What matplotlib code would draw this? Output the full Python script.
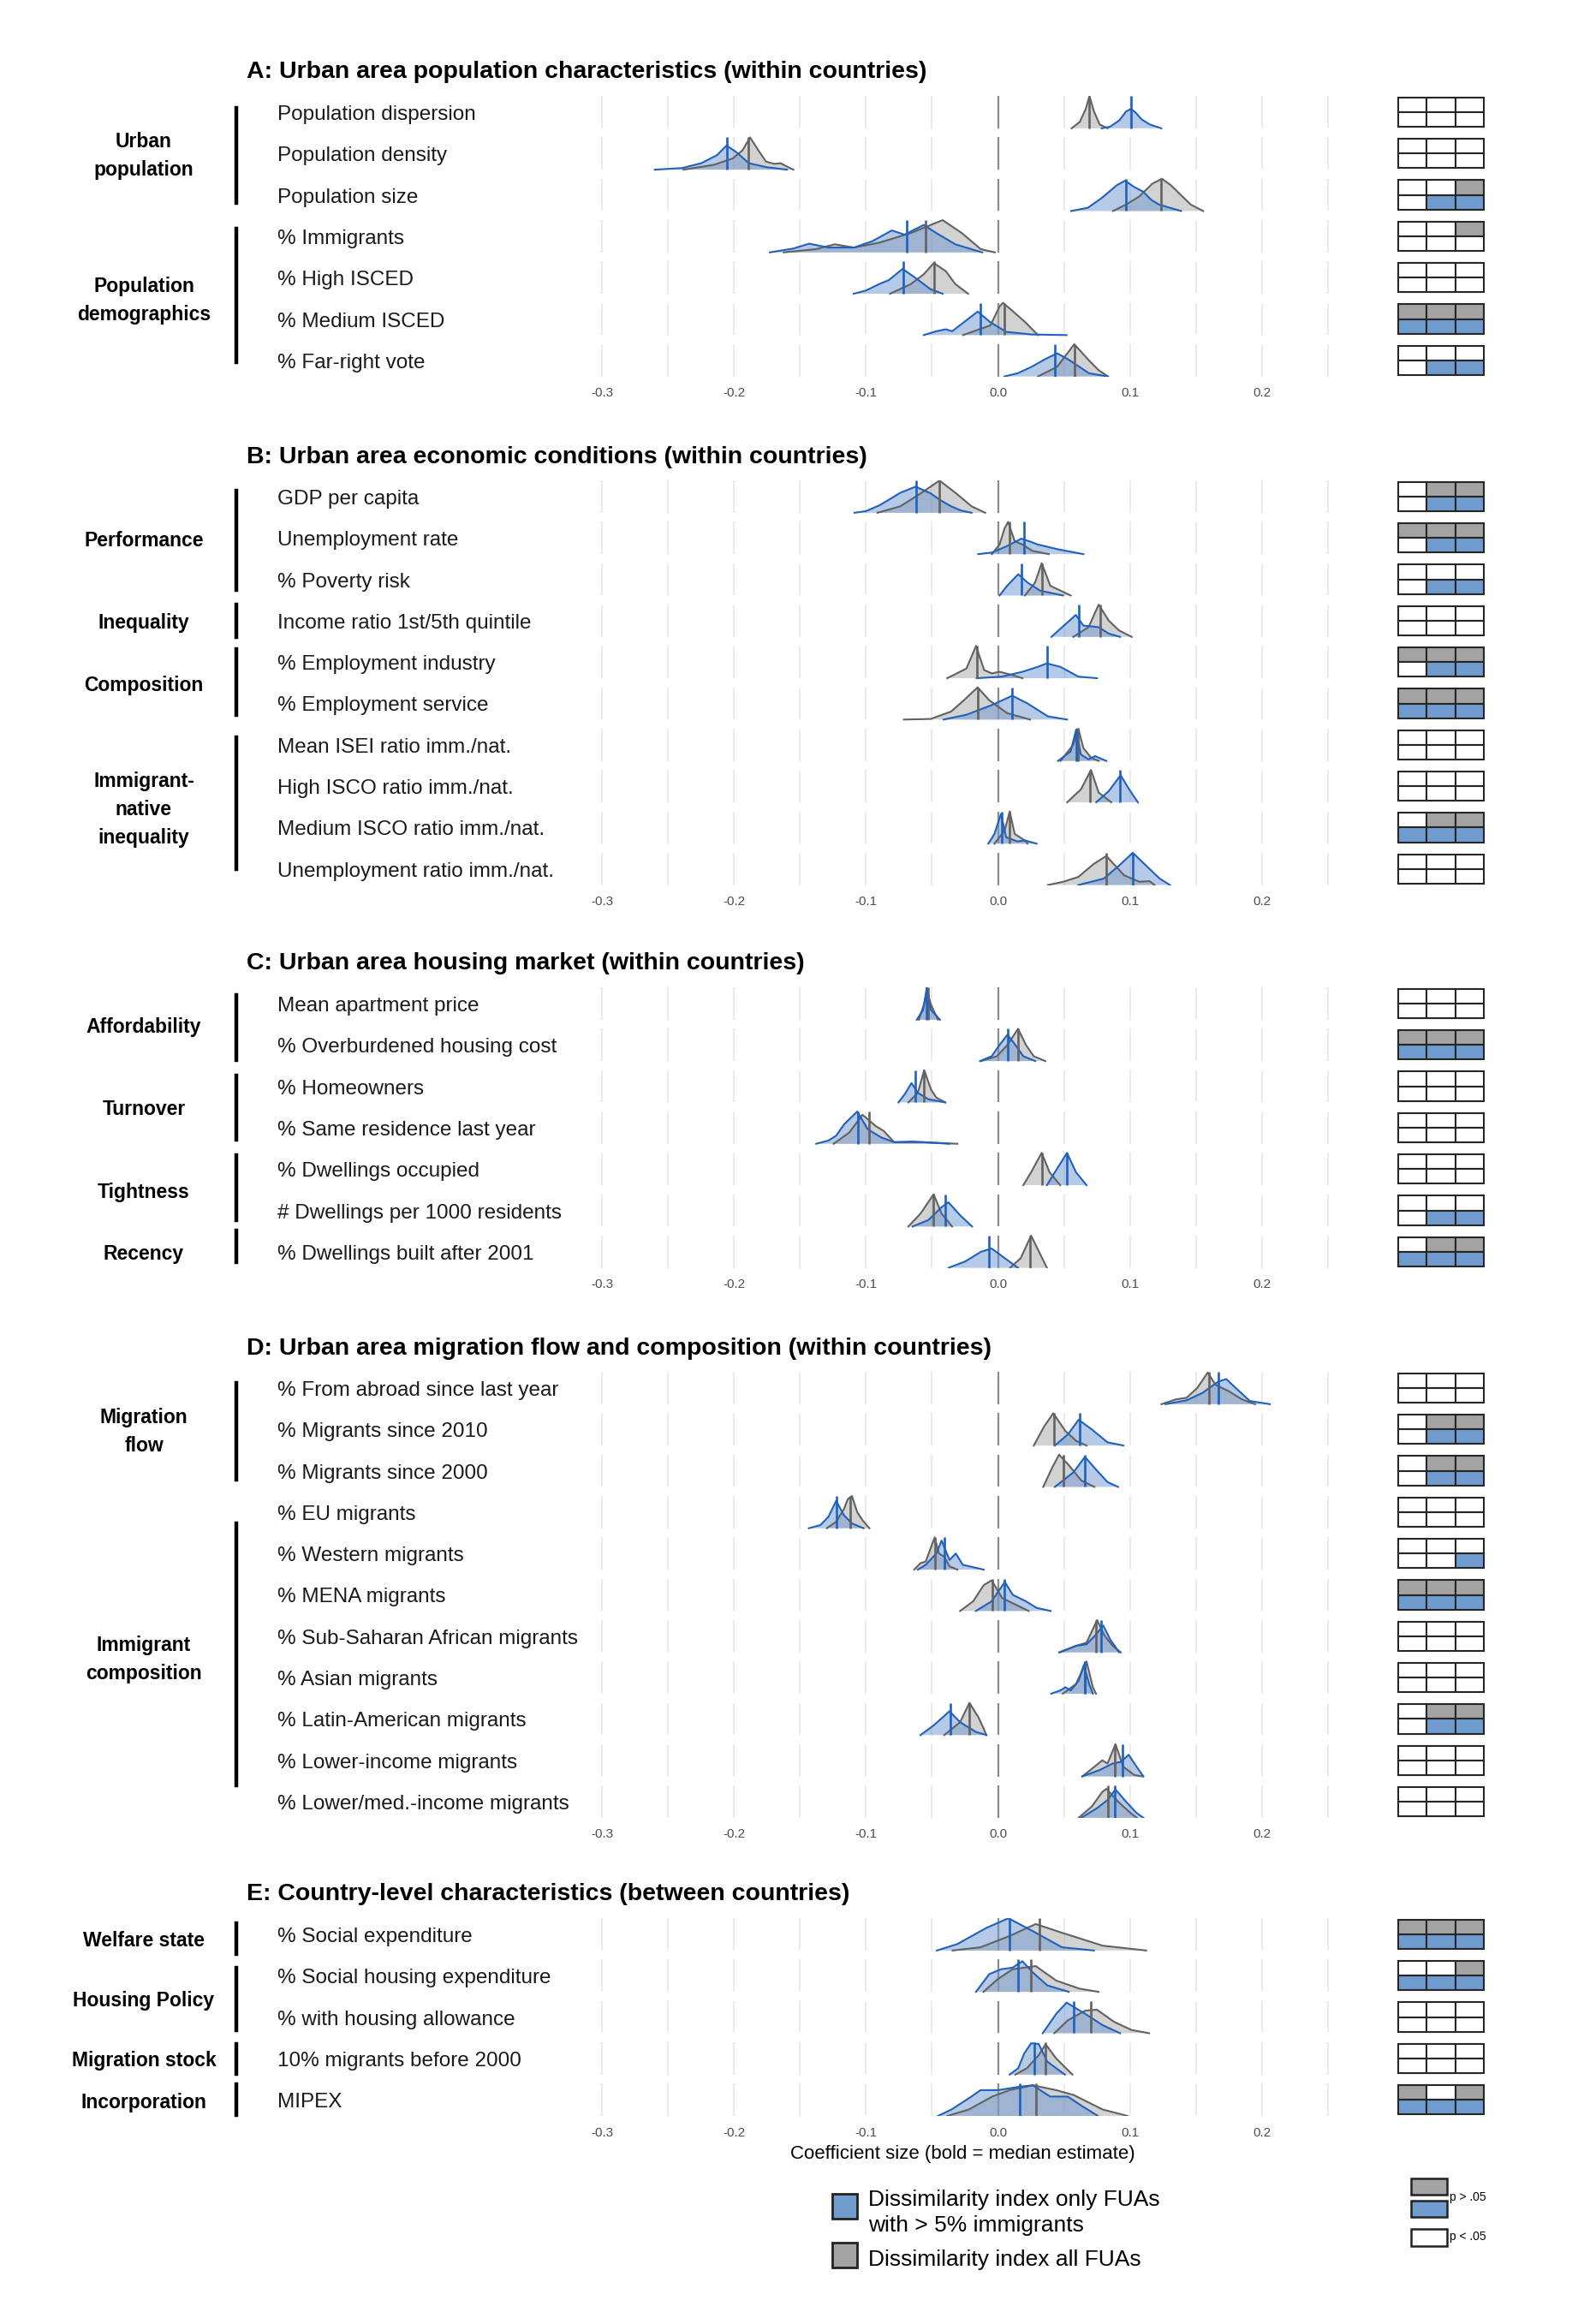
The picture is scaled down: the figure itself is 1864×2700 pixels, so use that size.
import numpy as np
import matplotlib.pyplot as plt
from matplotlib.patches import Rectangle

plt.rcParams['font.family'] = ['Liberation Sans', 'DejaVu Sans']

W, H = 1864, 2700
fig = plt.figure(figsize=(W / 100, H / 100), dpi=100)

# ---------------- data ----------------
# each curve: list of (coefficient, relative height) knots
a_title = 'A: Urban area population characteristics (within countries)'
a_labels = ['Population dispersion', 'Population density', 'Population size', '% Immigrants',
            '% High ISCED', '% Medium ISCED', '% Far-right vote']
a_groups = [('Urban\npopulation', 1.0, -0.1, 2.2), ('Population\ndemographics', 4.5, 2.82, 6.05)]
a_blue = [
    [(0.0785, 0), (0.085, 0.05), (0.092, 0.25), (0.097, 0.52), (0.1006, 0.6), (0.104, 0.5), (0.109, 0.27), (0.115, 0.12), (0.1237, 0)],
    [(-0.26, 0), (-0.2393, 0.05), (-0.2248, 0.2), (-0.2128, 0.45), (-0.2056, 0.75), (-0.1984, 0.55), (-0.1887, 0.2), (-0.1757, 0.08), (-0.1598, 0)],
    [(0.0554, 0), (0.068, 0.1), (0.0785, 0.4), (0.09, 0.8), (0.0963, 0.94), (0.103, 0.75), (0.11, 0.6), (0.116, 0.35), (0.122, 0.2), (0.1387, 0)],
    [(-0.1728, 0), (-0.155, 0.12), (-0.143, 0.27), (-0.1286, 0.15), (-0.109, 0.15), (-0.095, 0.35), (-0.0804, 0.68), (-0.0708, 0.55), (-0.0563, 0.85), (-0.0467, 0.6), (-0.0323, 0.25), (-0.012, 0)],
    [(-0.1093, 0), (-0.1, 0.1), (-0.09, 0.3), (-0.0828, 0.42), (-0.0722, 0.77), (-0.0611, 0.45), (-0.0515, 0.15), (-0.0419, 0)],
    [(-0.0563, 0), (-0.0467, 0.12), (-0.0395, 0.18), (-0.0347, 0.12), (-0.0226, 0.5), (-0.0154, 0.73), (-0.0058, 0.4), (0.0063, 0.1), (0.0255, 0.02), (0.052, 0)],
    [(0.0048, 0), (0.015, 0.1), (0.0255, 0.3), (0.035, 0.52), (0.0448, 0.72), (0.0544, 0.5), (0.0689, 0.1), (0.0833, 0)],
]
a_grey = [
    [(0.0558, 0), (0.062, 0.2), (0.0665, 0.6), (0.0693, 1.0), (0.0725, 0.55), (0.077, 0.12), (0.083, 0)],
    [(-0.2383, 0), (-0.2152, 0.15), (-0.2008, 0.35), (-0.1935, 0.6), (-0.1878, 1.0), (-0.1815, 0.6), (-0.1757, 0.25), (-0.1695, 0.18), (-0.1647, 0.2), (-0.16, 0.1), (-0.155, 0)],
    [(0.0871, 0), (0.097, 0.2), (0.107, 0.45), (0.117, 0.85), (0.1242, 1.0), (0.131, 0.8), (0.136, 0.6), (0.146, 0.2), (0.1555, 0)],
    [(-0.1623, 0), (-0.138, 0.1), (-0.1237, 0.25), (-0.109, 0.15), (-0.09, 0.3), (-0.066, 0.6), (-0.0419, 1.0), (-0.0274, 0.6), (-0.013, 0.1), (-0.0024, 0)],
    [(-0.0818, 0), (-0.066, 0.3), (-0.0563, 0.6), (-0.0486, 0.95), (-0.0395, 0.7), (-0.0323, 0.3), (-0.0226, 0)],
    [(-0.0265, 0), (-0.0058, 0.3), (0.0014, 0.9), (0.0039, 1.0), (0.011, 0.75), (0.0207, 0.4), (0.0303, 0)],
    [(0.0303, 0), (0.0448, 0.3), (0.0578, 1.0), (0.0689, 0.5), (0.0761, 0.2), (0.0833, 0)],
]
a_blue_med = [0.1006, -0.2056, 0.0968, -0.0689, -0.0717, -0.0135, 0.0433]
a_grey_med = [0.0693, -0.189, 0.1233, -0.0549, -0.0486, 0.0048, 0.0578]
a_sig_grey = ['000', '000', '001', '001', '000', '111', '000']
a_sig_blue = ['000', '000', '011', '000', '000', '111', '011']

b_title = 'B: Urban area economic conditions (within countries)'
b_labels = ['GDP per capita', 'Unemployment rate', '% Poverty risk', 'Income ratio 1st/5th quintile',
            '% Employment industry', '% Employment service', 'Mean ISEI ratio imm./nat.',
            'High ISCO ratio imm./nat.', 'Medium ISCO ratio imm./nat.', 'Unemployment ratio imm./nat.']
b_groups = [('Performance', 1.0, -0.14, 2.25), ('Inequality', 3.0, 2.6, 3.4),
            ('Composition', 4.5, 3.69, 5.27), ('Immigrant-\nnative\ninequality', 7.5, 5.81, 9.0)]
b_blue = [
    [(-0.1087, 0), (-0.1, 0.05), (-0.0894, 0.24), (-0.082, 0.42), (-0.074, 0.62), (-0.0624, 0.81), (-0.0509, 0.6), (-0.044, 0.4), (-0.0355, 0.2), (-0.028, 0.07), (-0.02, 0)],
    [(-0.015, 0), (-0.0046, 0.05), (0.0069, 0.25), (0.0177, 0.48), (0.025, 0.38), (0.03, 0.3), (0.0455, 0.15), (0.0647, 0)],
    [(0.0012, 0), (0.0069, 0.3), (0.0154, 0.66), (0.0224, 0.4), (0.032, 0.15), (0.0493, 0)],
    [(0.0405, 0), (0.0513, 0.4), (0.059, 0.68), (0.0647, 0.35), (0.0763, 0.3), (0.084, 0.1), (0.0925, 0)],
    [(-0.0162, 0), (0.0031, 0.05), (0.0185, 0.2), (0.03, 0.35), (0.037, 0.46), (0.0474, 0.35), (0.0609, 0.05), (0.0751, 0)],
    [(-0.0412, 0), (-0.0239, 0.15), (-0.0046, 0.45), (0.0108, 0.74), (0.0224, 0.5), (0.0378, 0.1), (0.0524, 0)],
    [(0.0455, 0), (0.0551, 0.3), (0.0593, 0.98), (0.0628, 0.2), (0.0686, 0.05), (0.0736, 0.15), (0.0821, 0)],
    [(0.0744, 0), (0.084, 0.35), (0.0929, 0.84), (0.0994, 0.4), (0.106, 0)],
    [(-0.0073, 0), (-0.0027, 0.3), (0.0023, 0.92), (0.0062, 0.2), (0.0146, 0.07), (0.0204, 0.1), (0.0293, 0)],
    [(0.0609, 0), (0.0802, 0.2), (0.0917, 0.6), (0.1021, 1.0), (0.1148, 0.5), (0.1225, 0.2), (0.1303, 0)],
]
b_grey = [
    [(-0.0913, 0), (-0.074, 0.2), (-0.0586, 0.6), (-0.0443, 1.0), (-0.0316, 0.6), (-0.02, 0.2), (-0.0096, 0)],
    [(-0.0046, 0), (0.0012, 0.3), (0.005, 0.8), (0.0077, 1.0), (0.0127, 0.4), (0.0185, 0.3), (0.0262, 0.1), (0.0385, 0)],
    [(0.0204, 0), (0.0281, 0.4), (0.0331, 1.0), (0.0397, 0.3), (0.0474, 0.15), (0.0551, 0)],
    [(0.057, 0), (0.0686, 0.3), (0.0763, 1.0), (0.084, 0.5), (0.0917, 0.2), (0.1013, 0)],
    [(-0.0385, 0), (-0.0239, 0.3), (-0.0166, 1.0), (-0.0104, 0.25), (-0.0046, 0.15), (0.0012, 0.2), (0.0108, 0.1), (0.0185, 0)],
    [(-0.0713, 0), (-0.0509, 0.02), (-0.0355, 0.25), (-0.0258, 0.6), (-0.0154, 1.0), (-0.0066, 0.6), (0.0069, 0.2), (0.0243, 0)],
    [(0.0474, 0), (0.057, 0.5), (0.0609, 1.0), (0.0647, 0.4), (0.0705, 0.1), (0.0763, 0)],
    [(0.0524, 0), (0.0628, 0.4), (0.0705, 1.0), (0.0763, 0.3), (0.0859, 0)],
    [(-0.0027, 0), (0.005, 0.4), (0.0089, 1.0), (0.0127, 0.3), (0.0204, 0.1), (0.0224, 0)],
    [(0.0378, 0), (0.0493, 0.1), (0.0609, 0.25), (0.0724, 0.65), (0.0821, 0.9), (0.0956, 0.3), (0.1071, 0.1), (0.1148, 0.12), (0.1187, 0)],
]
b_blue_med = [-0.062, 0.0197, 0.0177, 0.0613, 0.037, 0.0104, 0.059, 0.0925, 0.0031, 0.1021]
b_grey_med = [-0.0443, 0.0089, 0.0331, 0.0775, -0.0162, -0.0154, 0.0609, 0.0697, 0.0089, 0.0821]
b_sig_grey = ['011', '111', '000', '000', '111', '111', '000', '000', '011', '000']
b_sig_blue = ['011', '011', '011', '000', '011', '111', '000', '000', '111', '000']

c_title = 'C: Urban area housing market (within countries)'
c_labels = ['Mean apartment price', '% Overburdened housing cost', '% Homeowners',
            '% Same residence last year', '% Dwellings occupied', '# Dwellings per 1000 residents',
            '% Dwellings built after 2001']
c_groups = [('Affordability', 0.5, -0.2, 1.37), ('Turnover', 2.5, 1.73, 3.29),
            ('Tightness', 4.5, 3.67, 5.23), ('Recency', 6.0, 5.48, 6.25)]
c_blue = [
    [(-0.0615, 0), (-0.0567, 0.3), (-0.0539, 1.0), (-0.0507, 0.3), (-0.0439, 0)],
    [(-0.0136, 0), (-0.0048, 0.15), (0.0012, 0.5), (0.0072, 0.82), (0.0132, 0.5), (0.0192, 0.15), (0.0283, 0)],
    [(-0.0754, 0), (-0.0707, 0.25), (-0.0655, 0.6), (-0.0607, 0.3), (-0.0527, 0.1), (-0.0399, 0)],
    [(-0.1377, 0), (-0.1285, 0.1), (-0.1226, 0.25), (-0.1166, 0.6), (-0.1066, 1.0), (-0.0986, 0.45), (-0.0886, 0.2), (-0.0786, 0.05), (-0.0647, 0.07), (-0.0487, 0.03), (-0.0367, 0)],
    [(0.0371, 0), (0.0431, 0.4), (0.0523, 1.0), (0.0591, 0.4), (0.0671, 0)],
    [(-0.0647, 0), (-0.0527, 0.2), (-0.0427, 0.6), (-0.0375, 0.75), (-0.0287, 0.35), (-0.0196, 0)],
    [(-0.0375, 0), (-0.0248, 0.2), (-0.0128, 0.5), (-0.0048, 0.6), (0.0052, 0.3), (0.0152, 0)],
]
c_grey = [
    [(-0.0599, 0), (-0.0559, 0.5), (-0.0535, 0.9), (-0.0511, 0.5), (-0.0455, 0)],
    [(-0.0128, 0), (-0.0008, 0.15), (0.0072, 0.5), (0.0152, 1.0), (0.0212, 0.5), (0.0271, 0.15), (0.0359, 0)],
    [(-0.0679, 0), (-0.0607, 0.3), (-0.0559, 1.0), (-0.0507, 0.4), (-0.0467, 0.15), (-0.0399, 0)],
    [(-0.1245, 0), (-0.1126, 0.35), (-0.1026, 0.9), (-0.0926, 0.55), (-0.0866, 0.4), (-0.0786, 0.05), (-0.0567, 0.05), (-0.0307, 0)],
    [(0.0192, 0), (0.0251, 0.4), (0.0331, 1.0), (0.0391, 0.4), (0.0471, 0)],
    [(-0.0679, 0), (-0.0587, 0.4), (-0.0487, 1.0), (-0.0427, 0.4), (-0.0347, 0)],
    [(0.0092, 0), (0.0172, 0.3), (0.0251, 1.0), (0.0311, 0.5), (0.0371, 0)],
]
c_blue_med = [-0.0539, 0.0072, -0.0627, -0.1058, 0.0519, -0.0399, -0.0068]
c_grey_med = [-0.0531, 0.0152, -0.0559, -0.0978, 0.0331, -0.0487, 0.0244]
c_sig_grey = ['000', '111', '000', '000', '000', '000', '011']
c_sig_blue = ['000', '111', '000', '000', '000', '011', '111']

d_title = 'D: Urban area migration flow and composition (within countries)'
d_labels = ['% From abroad since last year', '% Migrants since 2010', '% Migrants since 2000',
            '% EU migrants', '% Western migrants', '% MENA migrants', '% Sub-Saharan African migrants',
            '% Asian migrants', '% Latin-American migrants', '% Lower-income migrants',
            '% Lower/med.-income migrants']
d_groups = [('Migration\nflow', 1.0, -0.12, 2.22), ('Immigrant\ncomposition', 6.5, 3.27, 9.61)]
d_blue = [
    [(0.1269, 0), (0.1429, 0.12), (0.1549, 0.35), (0.1669, 0.7), (0.1729, 0.78), (0.1828, 0.4), (0.1908, 0.1), (0.206, 0)],
    [(0.0431, 0), (0.0531, 0.35), (0.0611, 0.8), (0.0711, 0.5), (0.083, 0.1), (0.095, 0)],
    [(0.0431, 0), (0.0571, 0.45), (0.0659, 0.93), (0.0751, 0.5), (0.083, 0.15), (0.091, 0)],
    [(-0.1433, 0), (-0.1345, 0.1), (-0.1285, 0.35), (-0.1226, 0.85), (-0.1166, 0.4), (-0.1106, 0.15), (-0.1018, 0)],
    [(-0.0607, 0), (-0.0547, 0.15), (-0.0467, 0.5), (-0.0427, 0.9), (-0.0367, 0.3), (-0.0319, 0.5), (-0.0267, 0.15), (-0.0108, 0)],
    [(-0.0168, 0), (-0.0048, 0.3), (0.0052, 0.9), (0.0112, 0.5), (0.0212, 0.3), (0.0291, 0.1), (0.0399, 0)],
    [(0.0463, 0), (0.0591, 0.2), (0.0671, 0.25), (0.0731, 0.5), (0.0798, 0.83), (0.085, 0.4), (0.0918, 0)],
    [(0.0403, 0), (0.0471, 0.1), (0.0511, 0.2), (0.0551, 0.1), (0.0611, 0.4), (0.0651, 0.9), (0.0691, 0.3), (0.0719, 0)],
    [(-0.0587, 0), (-0.0487, 0.3), (-0.0367, 0.74), (-0.0287, 0.4), (-0.0168, 0.1), (-0.0088, 0)],
    [(0.0639, 0), (0.0771, 0.2), (0.087, 0.4), (0.093, 0.45), (0.099, 0.67), (0.105, 0.3), (0.1102, 0)],
    [(0.0631, 0), (0.0751, 0.3), (0.083, 0.55), (0.089, 0.88), (0.097, 0.5), (0.105, 0.15), (0.1102, 0)],
]
d_grey = [
    [(0.1238, 0), (0.1349, 0.15), (0.1429, 0.2), (0.1509, 0.5), (0.1589, 0.98), (0.1649, 0.6), (0.1749, 0.4), (0.1848, 0.15), (0.1948, 0)],
    [(0.0271, 0), (0.0351, 0.6), (0.0419, 1.0), (0.0511, 0.45), (0.0591, 0.15), (0.0671, 0)],
    [(0.0343, 0), (0.0411, 0.6), (0.0463, 1.0), (0.0531, 0.7), (0.0631, 0.2), (0.0731, 0)],
    [(-0.1297, 0), (-0.1226, 0.2), (-0.1166, 0.6), (-0.1138, 0.9), (-0.1106, 1.0), (-0.1066, 0.5), (-0.1026, 0.25), (-0.0974, 0)],
    [(-0.0635, 0), (-0.0587, 0.2), (-0.0547, 0.25), (-0.0507, 0.7), (-0.0479, 1.0), (-0.0447, 0.5), (-0.0407, 0.4), (-0.0367, 0.1), (-0.0307, 0)],
    [(-0.0287, 0), (-0.0188, 0.3), (-0.0108, 0.8), (-0.0048, 0.95), (0.0032, 0.4), (0.0132, 0.2), (0.0232, 0)],
    [(0.0471, 0), (0.0591, 0.2), (0.0671, 0.3), (0.0751, 1.0), (0.081, 0.5), (0.087, 0.2), (0.093, 0)],
    [(0.0491, 0), (0.0591, 0.3), (0.0671, 1.0), (0.0719, 0.2), (0.0743, 0)],
    [(-0.0407, 0), (-0.0287, 0.4), (-0.0216, 1.0), (-0.0148, 0.55), (-0.0108, 0.2), (-0.0088, 0)],
    [(0.0639, 0), (0.0731, 0.3), (0.079, 0.5), (0.083, 0.4), (0.089, 1.0), (0.095, 0.3), (0.103, 0.05), (0.109, 0)],
    [(0.0611, 0), (0.0711, 0.35), (0.079, 0.8), (0.0822, 0.9), (0.091, 0.5), (0.099, 0.2), (0.105, 0)],
]
d_blue_med = [0.1673, 0.0619, 0.0659, -0.1226, -0.0407, 0.0048, 0.0782, 0.0655, -0.0359, 0.0942, 0.0882]
d_grey_med = [0.1597, 0.0423, 0.0499, -0.1118, -0.0475, -0.004, 0.0743, 0.0659, -0.0216, 0.0882, 0.083]
d_sig_grey = ['000', '011', '011', '000', '000', '111', '000', '000', '011', '000', '000']
d_sig_blue = ['000', '011', '011', '000', '001', '111', '000', '000', '011', '000', '000']

e_title = 'E: Country-level characteristics (between countries)'
e_labels = ['% Social expenditure', '% Social housing expenditure', '% with housing allowance',
            '10% migrants before 2000', 'MIPEX']
e_groups = [('Welfare state', 0.1, -0.27, 0.48), ('Housing Policy', 1.55, 0.81, 2.32),
            ('Migration stock', 3.0, 2.65, 3.37), ('Incorporation', 4.0, 3.62, 4.37)]
e_blue = [
    [(-0.0463, 0), (-0.0308, 0.2), (-0.0088, 0.7), (0.0079, 1.0), (0.0264, 0.6), (0.0485, 0.1), (0.0727, 0)],
    [(-0.0167, 0), (-0.0066, 0.55), (0.0022, 0.7), (0.011, 0.75), (0.0185, 0.95), (0.0264, 0.6), (0.0374, 0.2), (0.0537, 0)],
    [(0.0339, 0), (0.0441, 0.6), (0.052, 0.95), (0.0661, 0.6), (0.0793, 0.25), (0.0925, 0)],
    [(0.0088, 0), (0.0154, 0.2), (0.0198, 0.65), (0.0251, 0.97), (0.0308, 0.95), (0.0374, 0.4), (0.0507, 0)],
    [(-0.0454, 0), (-0.0352, 0.2), (-0.022, 0.55), (-0.0132, 0.8), (0.0, 0.8), (0.0154, 0.9), (0.0264, 0.95), (0.0396, 0.6), (0.0529, 0.6), (0.0639, 0.3), (0.0758, 0)],
]
e_grey = [
    [(-0.0344, 0), (-0.0132, 0.1), (0.0088, 0.45), (0.0286, 0.82), (0.0485, 0.55), (0.0793, 0.15), (0.1123, 0)],
    [(-0.011, 0), (0.0, 0.4), (0.011, 0.7), (0.0286, 0.8), (0.0441, 0.35), (0.0617, 0.1), (0.0762, 0)],
    [(0.0427, 0), (0.0529, 0.4), (0.0661, 0.7), (0.0749, 0.73), (0.0881, 0.35), (0.1013, 0.1), (0.1145, 0)],
    [(0.0132, 0), (0.022, 0.2), (0.0308, 0.6), (0.0361, 0.94), (0.0441, 0.5), (0.0564, 0)],
    [(-0.0383, 0), (-0.022, 0.2), (-0.0044, 0.6), (0.0088, 0.8), (0.0264, 0.95), (0.0441, 0.8), (0.0573, 0.65), (0.0793, 0.2), (0.0982, 0)],
]
e_blue_med = [0.0088, 0.0154, 0.0573, 0.0278, 0.0163]
e_grey_med = [0.0317, 0.0247, 0.0705, 0.0361, 0.0286]
e_sig_grey = ['111', '001', '000', '000', '101']
e_sig_blue = ['111', '111', '000', '000', '111']

x_ticks = [-0.3, -0.2, -0.1, 0.0, 0.1, 0.2]
x_ticklabels = ['-0.3', '-0.2', '-0.1', '0.0', '0.1', '0.2']
x_grid = [-0.3, -0.25, -0.2, -0.15, -0.1, -0.05, 0.0, 0.05, 0.1, 0.15, 0.2, 0.25]

# ---------------- style ----------------
BLUE_FILL, BLUE_LINE = '#6b97d0', '#2061bd'
GREY_FILL, GREY_LINE = '#a6a6a6', '#626262'
TILE_GREY, TILE_BLUE = '#a3a3a3', '#6f9bce'
ROW = 48.3          # px between rows
HALF = 0.39         # half facet height in row units
X0, X1 = 695, 1559  # density panel px
XMIN, XMAX = -0.3052, 0.2552
T0, T1 = 1632, 1734  # tile px
TXT_DY = 3           # text sits a little lower than the facet centre


def fx(px):
    return px / W


def fy(py):
    return 1 - py / H


def section(title_y, row0, title, labels, groups, blue, grey, bmed, gmed, sg, sb):
    n = len(labels)
    top = row0 - HALF * ROW
    bot = row0 + (n - 1 + HALF) * ROW
    ax = fig.add_axes([fx(X0), fy(bot), fx(X1 - X0), (bot - top) / H])
    ax.set_xlim(XMIN, XMAX)
    ax.set_ylim(n - 1 + HALF, -HALF)
    for s in ax.spines.values():
        s.set_visible(False)
    ax.set_yticks([])
    ax.set_xticks(x_ticks)
    ax.set_xticklabels(x_ticklabels)
    ax.tick_params(axis='x', length=0, pad=9, labelsize=11, labelcolor='#4d4d4d')
    for i in range(n):
        y0 = i + HALF
        ax.vlines(x_grid, i - HALF, i + HALF, color='#ebebeb', lw=1.4, zorder=0)
        ax.vlines(0, i - HALF, i + HALF, color='#8c8c8c', lw=1.6, zorder=1)
        for pts, med, fc, ec in ((grey[i], gmed[i], GREY_FILL, GREY_LINE),
                                 (blue[i], bmed[i], BLUE_FILL, BLUE_LINE)):
            xs = [p[0] for p in pts]
            ys = [y0 - p[1] * 2 * HALF for p in pts]
            ax.fill(xs, ys, fc=fc, alpha=0.5, ec='none', zorder=2)
            ax.plot(xs, ys, color=ec, lw=1.5, zorder=3, solid_joinstyle='round')
            ax.vlines(med, i - HALF, i + HALF, color=ec, lw=1.9, zorder=4)
        fig.text(fx(324), fy(row0 + i * ROW + TXT_DY), labels[i], fontsize=17.5, color='#1a1a1a',
                 va='center', ha='left')

    # tiles
    tx = fig.add_axes([fx(T0), fy(bot), fx(T1 - T0), (bot - top) / H])
    tx.set_xlim(-0.03, 3.03)
    tx.set_ylim(n - 1 + HALF, -HALF)
    tx.axis('off')
    th = 0.355
    for i in range(n):
        for j in range(3):
            tx.add_patch(Rectangle((j, i - th), 1, th, fc=TILE_GREY if sg[i][j] == '1' else 'white',
                                   ec='#262626', lw=1.5))
            tx.add_patch(Rectangle((j, i), 1, th, fc=TILE_BLUE if sb[i][j] == '1' else 'white',
                                   ec='#262626', lw=1.5))

    fig.text(fx(288), fy(title_y + 1), title, fontsize=20.5, fontweight='bold', va='center', ha='left')
    for lab, mid, b0, b1 in groups:
        fig.text(fx(168), fy(row0 + mid * ROW + TXT_DY), lab, fontsize=16.5, fontweight='bold',
                 ha='center', va='center', linespacing=1.55)
        fig.add_artist(plt.Line2D([fx(276), fx(276)], [fy(row0 + b0 * ROW), fy(row0 + b1 * ROW)],
                                  color='black', lw=3.2))
    return ax


section(83, 131, a_title, a_labels, a_groups, a_blue, a_grey, a_blue_med, a_grey_med, a_sig_grey, a_sig_blue)
section(533, 580, b_title, b_labels, b_groups, b_blue, b_grey, b_blue_med, b_grey_med, b_sig_grey, b_sig_blue)
section(1124, 1172, c_title, c_labels, c_groups, c_blue, c_grey, c_blue_med, c_grey_med, c_sig_grey, c_sig_blue)
section(1574, 1621, d_title, d_labels, d_groups, d_blue, d_grey, d_blue_med, d_grey_med, d_sig_grey, d_sig_blue)
section(2211, 2259, e_title, e_labels, e_groups, e_blue, e_grey, e_blue_med, e_grey_med, e_sig_grey, e_sig_blue)

fig.text(fx(1124), fy(2516), 'Coefficient size (bold = median estimate)', fontsize=16,
         ha='center', va='center')

# legend area (pixel coordinates)
lg = fig.add_axes([0, 0, 1, 1 - 2530 / H])
lg.set_xlim(0, W)
lg.set_ylim(H, 2530)
lg.axis('off')
lg.add_patch(Rectangle((972, 2562), 29, 29, fc=TILE_BLUE, ec='#222222', lw=2))
lg.add_patch(Rectangle((972, 2619), 29, 29, fc=TILE_GREY, ec='#222222', lw=2))
lg.text(1014, 2584, 'Dissimilarity index only FUAs\nwith > 5% immigrants', fontsize=19,
        va='center', ha='left', linespacing=1.28)
lg.text(1014, 2639, 'Dissimilarity index all FUAs', fontsize=19, va='center', ha='left')
lg.add_patch(Rectangle((1648, 2544), 42, 19, fc=TILE_GREY, ec='#222222', lw=1.8))
lg.add_patch(Rectangle((1648, 2570), 42, 19, fc=TILE_BLUE, ec='#222222', lw=1.8))
lg.add_patch(Rectangle((1648, 2603), 42, 20, fc='white', ec='#222222', lw=1.8))
lg.text(1693, 2566, 'p > .05', fontsize=10, va='center', ha='left')
lg.text(1693, 2612, 'p < .05', fontsize=10, va='center', ha='left')

fig.savefig('out.png', dpi=100, facecolor='white')
